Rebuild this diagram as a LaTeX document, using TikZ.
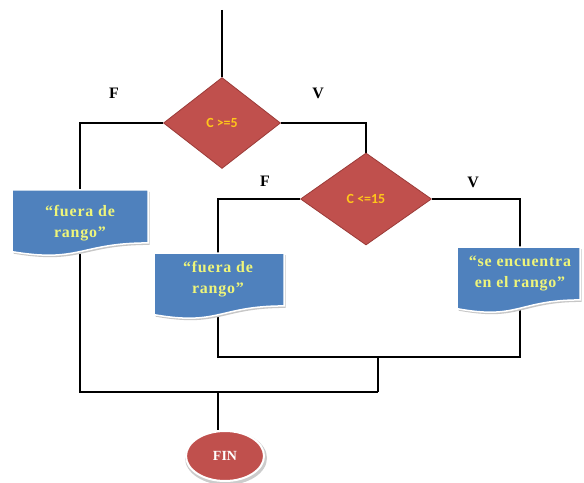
\documentclass[tikz,border=0pt]{standalone}
\usepackage{fontspec}
\setmainfont{Liberation Serif}
\newfontfamily\diafont{Carlito}
\usetikzlibrary{shapes.geometric}
\definecolor{docblue}{HTML}{4F81BD}
\definecolor{decred}{HTML}{C0504D}
\definecolor{decedge}{HTML}{9B3B38}
\definecolor{condtext}{HTML}{FFC61A}
\definecolor{doctext}{HTML}{EEF57A}
\pgfdeclarelayer{wires}
\pgfdeclarelayer{shapes}
\pgfsetlayers{wires,shapes,main}

% document (wavy bottom) shape: left x, top y, width, height
\newcommand\docshape[4]{%
  \fill[black!22] ({#1+1.5},{#2+2}) -- ({#1+#3+1.5},{#2+2}) -- ({#1+#3+1.5},{#2+0.802*#4+2})
    .. controls ({#1+0.5*#3+1.5},{#2+0.802*#4+2}) and ({#1+0.5*#3+1.5},{#2+1.108*#4+2}) .. ({#1+1.5},{#2+0.934*#4+2}) -- cycle;
  \filldraw[draw=white, line width=1.5bp, fill=docblue] (#1,#2) -- ({#1+#3},#2) -- ({#1+#3},{#2+0.802*#4})
    .. controls ({#1+0.5*#3},{#2+0.802*#4}) and ({#1+0.5*#3},{#2+1.108*#4}) .. (#1,{#2+0.934*#4}) -- cycle;}

\begin{document}
\begin{tikzpicture}[x=1bp, y=-1bp,
  wire/.style={draw=black, line width=2.5bp},
  decision/.style={diamond, fill=decred, draw=decedge, line width=0.8bp, inner sep=0pt,
    text=condtext, font=\diafont\bfseries\fontsize{14}{16}\selectfont},
  doclabel/.style={align=center, text=doctext, inner sep=0pt,
    font=\bfseries\fontsize{16}{21}\selectfont\addfontfeatures{LetterSpace=5}},
  branch/.style={font=\bfseries\fontsize{16}{18}\selectfont, inner sep=0pt},
  terminal/.style={ellipse, fill=decred, draw=white, line width=2bp, minimum width=78bp,
    minimum height=50bp, text=white, font=\bfseries\fontsize{14}{16}\selectfont}]
\useasboundingbox (0,0) rectangle (584,483);

% decisions
\node[decision, minimum width=117bp, minimum height=91bp] (d1) at (222,123) {C >=5};
\node[decision, minimum width=131bp, minimum height=92bp] (d2) at (366,199) {C <=15};

% output documents
\begin{pgfonlayer}{shapes}
  \docshape{12}{190}{136}{66}
  \docshape{154}{253}{130}{66}
  \docshape{457}{247}{123}{66}
\end{pgfonlayer}
\node[doclabel] (b1) at (80,223) {“fuera de\\rango”};
\node[doclabel] (b2) at (218,279) {“fuera de\\rango”};
\node[doclabel] (b3) at (520,273) {“se encuentra\\en el rango”};

% end
\fill[black!20] (226,458) ellipse [x radius=41, y radius=27];
\node[terminal] (fin) at (225,456) {FIN};

% branch labels
\node[branch] (f1) at (114,93) {F};
\node[branch] (v1) at (318,93) {V};
\node[branch] (f2) at (265,181) {F};
\node[branch] (v2) at (473,182) {V};

% connectors
\coordinate (start) at (222,10);
\coordinate (m2) at (378,357);
\coordinate (m1) at (378,392);
\begin{pgfonlayer}{wires}
  \draw[wire] (start) -- (d1.north);
  \draw[wire] (d1.west) -| (b1.center);
  \draw[wire] (d1.east) -| (d2.north);
  \draw[wire] (d2.west) -| (b2.center);
  \draw[wire] (d2.east) -| (b3.center);
  \draw[wire] (b2.center) |- (m2) -| (b3.center);
  \draw[wire] (m2) -- (m1);
  \draw[wire] (b1.center) |- (m1);
  \draw[wire] (fin.north -| 218,0) -- (218,392);
\end{pgfonlayer}
\end{tikzpicture}
\end{document}
